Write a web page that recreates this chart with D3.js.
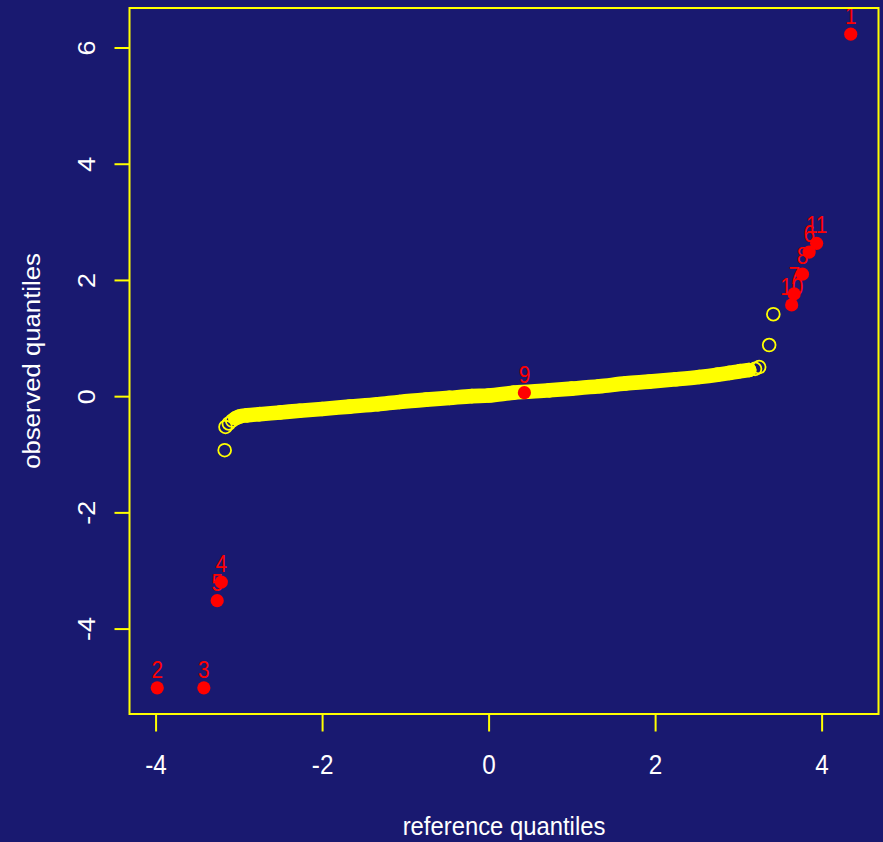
<!DOCTYPE html>
<html>
<head>
<meta charset="utf-8">
<style>
  html, body { margin: 0; padding: 0; background: #191970; }
  svg { display: block; }
  text { font-family: "Liberation Sans", Arial, Helvetica, sans-serif; }
</style>
<script src="https://cdn.jsdelivr.net/npm/d3@7"></script>
</head>
<body>
<svg id="chart" width="883" height="842"></svg>
<script>
// Dense run of the sample: (reference quantile, observed quantile) along the overplotted band
const bandRef = [-3.04, -2.99, -2.90, -2.75, -2.50, -2.27, -2.00, -1.67, -1.33, -1.07, -0.75, -0.47,
                 -0.20, 0.00, 0.30, 0.73, 1.00, 1.33, 1.65, 1.93, 2.25, 2.53, 2.75, 2.89, 3.02, 3.13];
const bandObs = [-0.38, -0.35, -0.33, -0.31, -0.28, -0.25, -0.22, -0.18, -0.14, -0.10, -0.06, -0.03,
                 0.00, 0.01, 0.06, 0.10, 0.13, 0.17, 0.22, 0.25, 0.29, 0.33, 0.37, 0.40, 0.43, 0.45];

// Sparse sample points in both tails
const tailRef = [-3.17, -3.16, -3.12, -3.08, 3.20, 3.25, 3.37, 3.42];
const tailObs = [-0.93, -0.53, -0.47, -0.42, 0.47, 0.50, 0.88, 1.41];

// Flagged outliers with their case numbers
const outlierId  = ["1", "2", "3", "4", "5", "6", "7", "8", "9", "10", "11"];
const outlierRef = [4.35, -3.98, -3.42, -3.21, -3.26, 3.85, 3.67, 3.77, 0.43, 3.64, 3.94];
const outlierObs = [6.23, -5.02, -5.02, -3.20, -3.52, 2.48, 1.76, 2.10, 0.06, 1.57, 2.63];

const xTickValues = [-4, -2, 0, 2, 4];
const yTickValues = [-4, -2, 0, 2, 4, 6];
const xTitle = "reference quantiles";
const yTitle = "observed quantiles";

const BG = "#191970", FG = "#ffff00", HI = "#ff0000", TXT = "#ffffff";
const plot = { left: 129.5, right: 878.5, top: 8, bottom: 714 };
const squeeze = 0.9; // narrow glyph width

const svg = d3.select("#chart");
svg.append("rect").attr("width", 883).attr("height", 842).attr("fill", BG);

// Axis ranges: data extent widened by 4% on each side
const pad = ([a, b]) => [a - 0.04 * (b - a), b + 0.04 * (b - a)];
const allRef = bandRef.concat(tailRef, outlierRef);
const allObs = bandObs.concat(tailObs, outlierObs);

const x = d3.scaleLinear().domain(pad(d3.extent(allRef))).range([plot.left, plot.right]);
const y = d3.scaleLinear().domain(pad(d3.extent(allObs))).range([plot.bottom, plot.top]);

svg.append("clipPath").attr("id", "plotClip")
  .append("rect")
  .attr("x", plot.left).attr("y", plot.top)
  .attr("width", plot.right - plot.left).attr("height", plot.bottom - plot.top);

const g = svg.append("g").attr("clip-path", "url(#plotClip)");

const ringR = 6.4, ringW = 1.8;
const band = d3.zip(bandRef, bandObs);
const tail = d3.zip(tailRef, tailObs);

// Overplotted band: circles so dense they merge into a solid stroke
g.append("path")
  .datum(band)
  .attr("d", d3.line().x(d => x(d[0])).y(d => y(d[1])).curve(d3.curveMonotoneX))
  .attr("fill", "none")
  .attr("stroke", FG)
  .attr("stroke-width", 2 * ringR + ringW)
  .attr("stroke-linecap", "round")
  .attr("stroke-linejoin", "round");

g.selectAll("circle.pt")
  .data(band.concat(tail))
  .join("circle")
  .attr("class", "pt")
  .attr("cx", d => x(d[0]))
  .attr("cy", d => y(d[1]))
  .attr("r", ringR)
  .attr("fill", "none")
  .attr("stroke", FG)
  .attr("stroke-width", ringW);

// Outliers: filled red dots with case labels above
const outliers = outlierId.map((id, i) => ({ id, rx: outlierRef[i], oy: outlierObs[i] }));

g.selectAll("circle.out")
  .data(outliers)
  .join("circle")
  .attr("class", "out")
  .attr("cx", d => x(d.rx))
  .attr("cy", d => y(d.oy))
  .attr("r", 6.6)
  .attr("fill", HI);

g.selectAll("text.lab")
  .data(outliers)
  .join("text")
  .attr("class", "lab")
  .attr("transform", d => `translate(${x(d.rx)},${y(d.oy) - 10}) scale(${squeeze},1)`)
  .attr("text-anchor", "middle")
  .attr("font-size", 23)
  .attr("fill", HI)
  .text(d => d.id);

// Axes
const xAxis = svg.append("g")
  .attr("transform", `translate(0,${plot.bottom})`)
  .call(d3.axisBottom(x).tickValues(xTickValues).tickSize(17.5).tickPadding(23.3)
        .tickFormat(d3.format("d")));
xAxis.select(".domain").remove();
xAxis.selectAll(".tick line").attr("stroke", FG).attr("stroke-width", 2);
xAxis.selectAll(".tick text")
  .attr("fill", TXT)
  .attr("font-size", 27)
  .attr("font-family", null)
  .attr("transform", `scale(${squeeze},1)`)
  .text(d => String(d).replace("\u2212", "-"));

const yAxis = svg.append("g")
  .attr("transform", `translate(${plot.left},0)`)
  .call(d3.axisLeft(y).tickValues(yTickValues).tickSize(15).tickFormat(d3.format("d")));
yAxis.select(".domain").remove();
yAxis.selectAll(".tick line").attr("stroke", FG).attr("stroke-width", 2);
yAxis.selectAll(".tick text")
  .attr("fill", TXT)
  .attr("font-size", 27)
  .attr("font-family", null)
  .attr("x", 0).attr("dy", 0)
  .attr("text-anchor", "middle")
  .attr("transform", `translate(${95 - plot.left},0) rotate(-90) scale(1,${squeeze})`)
  .text(d => String(d));

// Plot frame
svg.append("rect")
  .attr("x", plot.left).attr("y", plot.top)
  .attr("width", plot.right - plot.left).attr("height", plot.bottom - plot.top)
  .attr("fill", "none").attr("stroke", FG).attr("stroke-width", 2);

// Axis titles
svg.append("text")
  .attr("transform", `translate(${(plot.left + plot.right) / 2},835) scale(${squeeze},1)`)
  .attr("text-anchor", "middle")
  .attr("font-size", 26.5)
  .attr("fill", TXT)
  .text(xTitle);

svg.append("text")
  .attr("transform", `translate(40,${(plot.top + plot.bottom) / 2}) rotate(-90) scale(0.97,${squeeze})`)
  .attr("text-anchor", "middle")
  .attr("font-size", 26.5)
  .attr("fill", TXT)
  .text(yTitle);
</script>
</body>
</html>
